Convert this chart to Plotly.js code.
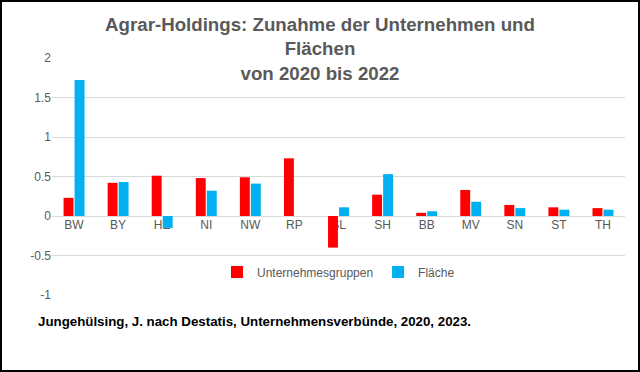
<!DOCTYPE html>
<html>
<head>
<meta charset="utf-8">
<script src="https://cdn.plot.ly/plotly-3.0.1.min.js"></script>
<style>
  html, body { margin: 0; padding: 0; background: #fff; }
  #wrap { position: relative; width: 640px; height: 372px; }
  #chart { width: 640px; height: 372px; }
  #frame { position: absolute; left: 0; top: 0; width: 640px; height: 372px; box-sizing: border-box; border: 2px solid #000; pointer-events: none; }
</style>
</head>
<body>
<div id="wrap">
  <div id="chart"></div>
  <div id="frame"></div>
</div>
<script>
const categories = ["BW", "BY", "HE", "NI", "NW", "RP", "SL", "SH", "BB", "MV", "SN", "ST", "TH"];
const unternehmensgruppen = [0.23, 0.42, 0.51, 0.48, 0.49, 0.73, -0.40, 0.27, 0.04, 0.33, 0.14, 0.11, 0.10];
const flaeche = [1.72, 0.43, -0.15, 0.32, 0.41, 0, 0.11, 0.53, 0.06, 0.18, 0.10, 0.08, 0.08];
const seriesNames = ["Unternehmesgruppen", "Fläche"];
const yTicks = [-1, -0.5, 0, 0.5, 1, 1.5, 2];
const yTickLabels = ["-1", "-0.5", "0", "0.5", "1", "1.5", "2"];
const titleText = "Agrar-Holdings: Zunahme der Unternehmen und<br>Flächen<br>von 2020 bis 2022";
const sourceText = "Jungehülsing, J. nach Destatis, Unternehmensverbünde, 2020, 2023.";

const gray = "#595959";
const yRange = [-1, 2];
const zeroFrac = (0 - yRange[0]) / (yRange[1] - yRange[0]);

const traces = [
  { type: "bar", name: seriesNames[0], x: categories, y: unternehmensgruppen, marker: { color: "#FF0000" } },
  { type: "bar", name: seriesNames[1], x: categories, y: flaeche, marker: { color: "#00B0F0" } }
];

const layout = {
  width: 640, height: 372,
  margin: { l: 52, r: 15, t: 58, b: 77 },
  paper_bgcolor: "#fff", plot_bgcolor: "#fff",
  font: { family: "Liberation Sans, Arial, sans-serif", color: gray, size: 12 },
  title: {
    text: titleText,
    font: { family: "Liberation Sans, Arial, sans-serif", size: 18.7, color: gray, weight: "bold" },
    x: 0.5, xanchor: "center", xref: "container",
    y: 1 - 31 / 372, yanchor: "top", yref: "container"
  },
  barmode: "group", bargap: 0.5, bargroupgap: 0.1,
  xaxis: {
    type: "category", anchor: "free", position: zeroFrac, showgrid: false, showline: false, zeroline: false,
    ticks: "", tickfont: { size: 12, color: gray }, layer: "below traces", fixedrange: true
  },
  yaxis: {
    range: yRange, tickvals: yTicks, ticktext: yTickLabels,
    showgrid: true, gridcolor: "#d9d9d9", gridwidth: 1,
    zeroline: true, zerolinecolor: "#d9d9d9", zerolinewidth: 1,
    showline: false, ticks: "", tickfont: { size: 12, color: gray }, fixedrange: true
  },
  showlegend: true,
  legend: {
    orientation: "h", x: 0.5, xanchor: "center", y: 23 / 237, yanchor: "middle",
    font: { size: 12, color: gray }, bgcolor: "rgba(0,0,0,0)", itemwidth: 30, traceorder: "normal"
  },
  annotations: [{
    text: sourceText, xref: "paper", yref: "paper",
    x: (36 - 52) / 573, y: (295 - 321) / 237, xanchor: "left", yanchor: "middle",
    showarrow: false, font: { family: "Liberation Sans, Arial, sans-serif", size: 13.3, color: "#000", weight: "bold" }
  }]
};

Plotly.newPlot("chart", traces, layout, { displayModeBar: false, staticPlot: true });
</script>
</body>
</html>
